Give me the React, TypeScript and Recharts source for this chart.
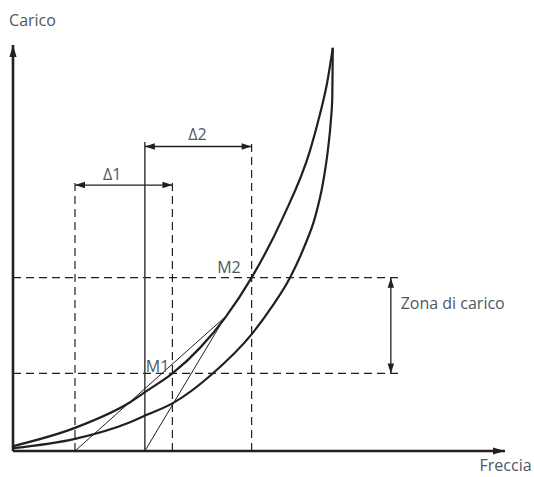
import React from 'react';
import { ComposedChart, Line, XAxis, YAxis, ReferenceLine, ReferenceDot } from 'recharts';

// Curve 1 (upper / left) : Freccia vs Carico
const upperFreccia = [0, 12.6, 23.8, 27.2, 32.4, 38.0, 43.1, 48.5, 54.9, 60.4, 62.4, 63.8, 65.0];
const upperCarico = [1.2, 5.7, 12.0, 14.8, 19.1, 25.4, 32.8, 42.7, 57.6, 74.1, 83.0, 90.4, 99.3];
// Curve 2 (lower / right)
const lowerFreccia = [0, 12.6, 23.8, 27.2, 32.5, 40.6, 48.4, 52.6, 56.3, 59.2, 61.4, 63.0, 64.0, 64.6, 64.9, 65.0];
const lowerCarico = [0.7, 3.0, 7.1, 8.9, 11.8, 19.1, 28.6, 35.5, 42.7, 50.3, 57.6, 66.0, 74.1, 81.3, 87.2, 99.3];

// Points M1, M2
const pointNames = ['M1', 'M2'];
const pointFreccia = [32.4, 48.5];
const pointCarico = [19.1, 42.7];
// Tangent intercepts on the Freccia axis
const interceptFreccia = [12.6, 26.8];
const tangentEndFreccia = [43.1, 43.1];
const tangentEndCarico = [33.0, 33.0];
// Dimension labels
const deltaNames = ['Δ1', 'Δ2'];
const deltaLevel = [65.5, 75.0];
const deltaTickTop = [66.7, 76.1];
const zoneLabel = 'Zona di carico';
const zoneFreccia = 76.8;
const dashedEnd = 78.3;
const axisTitles = ['Carico', 'Freccia'];

const upperData = upperFreccia.map((x, i) => ({ x, y: upperCarico[i] }));
const lowerData = lowerFreccia.map((x, i) => ({ x, y: lowerCarico[i] }));
const tangentData = interceptFreccia.map((x0, i) => [
  { x: x0, y: 0 },
  { x: tangentEndFreccia[i], y: tangentEndCarico[i] },
]);

const INK = '#231f20';
const TXT = '#4d5863';
const FONT = '"Open Sans", sans-serif';

function head(x: number, y: number, dx: number, dy: number, len: number, half: number, key: string) {
  const L = Math.hypot(dx, dy) || 1;
  const ux = dx / L, uy = dy / L;
  const bx = x - ux * len, by = y - uy * len;
  const px = -uy * half, py = ux * half;
  return <polygon key={key} points={`${x},${y} ${bx + px},${by + py} ${bx - px},${by - py}`} fill={INK} />;
}

const arrowShape = (start: boolean, end: boolean, width: number, len: number, half: number) => (p: any) => {
  const { x1, y1, x2, y2 } = p;
  return (
    <g>
      <line x1={x1} y1={y1} x2={x2} y2={y2} stroke={INK} strokeWidth={width} />
      {start && head(x1, y1, x1 - x2, y1 - y2, len, half, 's')}
      {end && head(x2, y2, x2 - x1, y2 - y1, len, half, 'e')}
    </g>
  );
};

const textShape = (txt: string, anchor: 'start' | 'end' | 'middle' = 'start') => (p: any) => (
  <text x={p.cx} y={p.cy} textAnchor={anchor} fontFamily={FONT} fontSize={16} fill={TXT}>
    {txt}
  </text>
);

export default function App() {
  return (
    <div>
      <style>{'body{margin:0}'}</style>
      <ComposedChart
        width={534}
        height={477}
        margin={{ top: 45, right: 29, bottom: 26, left: 13 }}
      >
        <XAxis type="number" dataKey="x" domain={[0, 100]} hide allowDataOverflow />
        <YAxis type="number" dataKey="y" domain={[0, 100]} hide allowDataOverflow />

        {/* dashed horizontal levels */}
        {pointCarico.map((c, i) => (
          <ReferenceLine key={'h' + i} segment={[{ x: 0, y: c }, { x: dashedEnd, y: c }]}
            stroke={INK} strokeWidth={1.2} strokeDasharray="8 5" ifOverflow="visible" />
        ))}
        {/* dashed verticals: intercept 1, M1, M2 */}
        <ReferenceLine segment={[{ x: interceptFreccia[0], y: 0 }, { x: interceptFreccia[0], y: deltaTickTop[0] }]}
          stroke={INK} strokeWidth={1.2} strokeDasharray="8 5" ifOverflow="visible" />
        <ReferenceLine segment={[{ x: pointFreccia[0], y: 0 }, { x: pointFreccia[0], y: deltaTickTop[0] }]}
          stroke={INK} strokeWidth={1.2} strokeDasharray="8 5" ifOverflow="visible" />
        <ReferenceLine segment={[{ x: pointFreccia[1], y: 0 }, { x: pointFreccia[1], y: deltaTickTop[1] }]}
          stroke={INK} strokeWidth={1.2} strokeDasharray="8 5" ifOverflow="visible" />
        {/* solid vertical at intercept 2 */}
        <ReferenceLine segment={[{ x: interceptFreccia[1], y: 0 }, { x: interceptFreccia[1], y: deltaTickTop[1] }]}
          stroke="#3c3c3c" strokeWidth={1.5} ifOverflow="visible" />

        {/* dimension arrows */}
        <ReferenceLine segment={[{ x: interceptFreccia[0], y: deltaLevel[0] }, { x: pointFreccia[0], y: deltaLevel[0] }]}
          ifOverflow="visible" shape={arrowShape(true, true, 1.3, 10, 3.2)} />
        <ReferenceLine segment={[{ x: interceptFreccia[1], y: deltaLevel[1] }, { x: pointFreccia[1], y: deltaLevel[1] }]}
          ifOverflow="visible" shape={arrowShape(true, true, 1.3, 10, 3.2)} />
        <ReferenceLine segment={[{ x: zoneFreccia, y: pointCarico[1] }, { x: zoneFreccia, y: pointCarico[0] }]}
          ifOverflow="visible" shape={arrowShape(true, true, 1.3, 10, 3.2)} />

        {/* tangent lines */}
        {tangentData.map((d, i) => (
          <Line key={'t' + i} data={d} dataKey="y" type="linear" stroke={INK} strokeWidth={1}
            dot={false} activeDot={false} isAnimationActive={false} />
        ))}

        {/* curves */}
        <Line data={upperData} dataKey="y" type="monotone" stroke={INK} strokeWidth={2.2}
          dot={false} activeDot={false} isAnimationActive={false} />
        <Line data={lowerData} dataKey="y" type="monotone" stroke={INK} strokeWidth={2.2}
          dot={false} activeDot={false} isAnimationActive={false} />

        {/* axes with arrows */}
        <ReferenceLine segment={[{ x: 0, y: 0 }, { x: 0, y: 100 }]} ifOverflow="visible"
          shape={arrowShape(false, true, 2.6, 12, 3.6)} />
        <ReferenceLine segment={[{ x: 0, y: 0 }, { x: 100, y: 0 }]} ifOverflow="visible"
          shape={arrowShape(false, true, 2.6, 12, 3.6)} />

        {/* labels */}
        <ReferenceDot x={-0.8} y={104.6} r={0} ifOverflow="visible" shape={textShape(axisTitles[0])} />
        <ReferenceDot x={105.4} y={-5.0} r={0} ifOverflow="visible" shape={textShape(axisTitles[1], 'end')} />
        <ReferenceDot x={18.3} y={66.8} r={0} ifOverflow="visible" shape={textShape(deltaNames[0])} />
        <ReferenceDot x={35.6} y={76.5} r={0} ifOverflow="visible" shape={textShape(deltaNames[1])} />
        <ReferenceDot x={27.0} y={19.5} r={0} ifOverflow="visible" shape={textShape(pointNames[0])} />
        <ReferenceDot x={41.5} y={43.8} r={0} ifOverflow="visible" shape={textShape(pointNames[1])} />
        <ReferenceDot x={78.8} y={35.0} r={0} ifOverflow="visible" shape={textShape(zoneLabel)} />
      </ComposedChart>
    </div>
  );
}
